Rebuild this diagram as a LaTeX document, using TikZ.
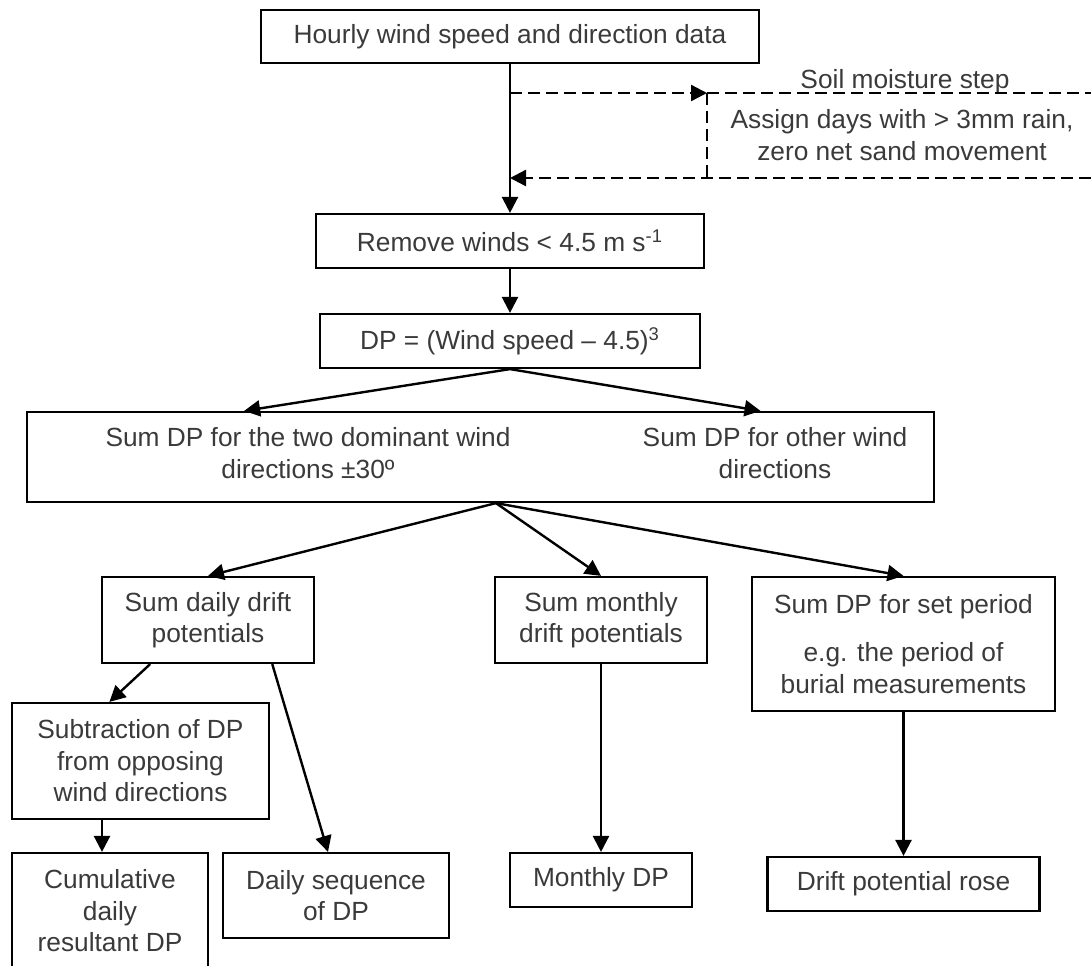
\documentclass[tikz,border=0pt]{standalone}
\usepackage{fontspec}
\setmainfont{Liberation Sans}
\usetikzlibrary{arrows.meta,calc}
\definecolor{txtgray}{HTML}{3A3A3A}
\tikzstyle{blk}=[rectangle,draw,line width=1.1pt,text=txtgray,align=center,inner sep=0pt]
\tikzstyle{lbl}=[text=txtgray,align=center,inner sep=0pt]
\tikzstyle{arr}=[-{Triangle[length=8pt,width=8pt]},line width=1.2pt]
\tikzstyle{dsh}=[line width=1.1pt,dash pattern=on 6pt off 3pt]
\begin{document}
\begin{tikzpicture}[x=0.5pt,y=-0.5pt,font=\fontsize{13.15}{15.75}\selectfont]
\useasboundingbox (0,0) rectangle (1091,965);
\node[blk,minimum width=249pt,minimum height=26.5pt] (hourly) at (510,36.5) {Hourly wind speed and direction data};
\node[blk,minimum width=194pt,minimum height=27pt] (remove) at (510,241) {Remove winds < 4.5 m s\textsuperscript{-1}};
\node[blk,minimum width=190pt,minimum height=27pt] (dp) at (510,341) {DP = (Wind speed -- 4.5)\textsuperscript{3}};
\node[blk,minimum width=453.5pt,minimum height=45pt] (sums) at (480.5,457) {};
\node[lbl] (sumdom) at (308,453) {Sum DP for the two dominant wind\\directions ±30º};
\node[lbl] (sumoth) at (775,453) {Sum DP for other wind\\directions};
\node[blk,minimum width=106pt,minimum height=43pt] (daily) at (208,620) {Sum daily drift\\potentials};
\node[blk,minimum width=106pt,minimum height=43pt] (monthly) at (601,620) {Sum monthly\\drift potentials};
\node[blk,minimum width=151.5pt,minimum height=67pt] (period) at (903.5,644) {Sum DP for set period\\[8.5pt]e.g. the period of\\burial measurements};
\node[blk,minimum width=128.5pt,minimum height=58pt] (subtr) at (140.5,761) {Subtraction of DP\\from opposing\\wind directions};
\node[blk,minimum width=98pt,minimum height=58pt] (cumul) at (110,911) {Cumulative\\daily\\resultant DP};
\node[blk,minimum width=113pt,minimum height=42.5pt] (dseq) at (336,895.5) {Daily sequence\\of DP};
\node[blk,minimum width=91pt,minimum height=27pt] (mdp) at (601,880) {Monthly DP};
\node[blk,minimum width=136pt,minimum height=27pt] (rose) at (903.5,884) {Drift potential rose};
\node[lbl,anchor=base] (soilhd) at (905,88) {Soil moisture step};
\node[lbl] (soil) at (902,135) {Assign days with > 3mm rain,\\zero net sand movement};
\coordinate (soilA) at (510,93);
\coordinate (soilB) at (707,93);
\coordinate (soilC) at (1091,93);
\coordinate (soilD) at (707,178);
\coordinate (soilE) at (1091,178);
\coordinate (soilF) at (510,178);
\draw[arr] (hourly) -- (remove);
\draw[dsh,arr] (soilA) -- (soilB);
\draw[dsh] (soilB) -- (soilC);
\draw[dsh] (soilB) -- (soilD);
\draw[dsh,arr] (soilE) -- (soilF);
\draw[arr] (remove) -- (dp);
\draw[arr] (dp.south) -- ($(sums.north west)!0.24!(sums.north east)$);
\draw[arr] (dp.south) -- ($(sums.north west)!0.808!(sums.north east)$);
\coordinate (fork) at ($(sums.south west)!0.517!(sums.south east)$);
\draw[arr] (fork) -- (daily.north);
\draw[arr] (fork) -- (monthly.north);
\draw[arr] (fork) -- (period.north);
\draw[arr] ($(daily.south west)!0.23!(daily.south east)$) -- ($(subtr.north west)!0.38!(subtr.north east)$);
\draw[arr] ($(daily.south west)!0.8!(daily.south east)$) -- ($(dseq.north west)!0.465!(dseq.north east)$);
\draw[arr] ([xshift=-4pt]cumul.north |- subtr.south) -- ([xshift=-4pt]cumul.north);
\draw[arr] (monthly) -- (mdp);
\draw[arr] (period) -- (rose);
\end{tikzpicture}
\end{document}
